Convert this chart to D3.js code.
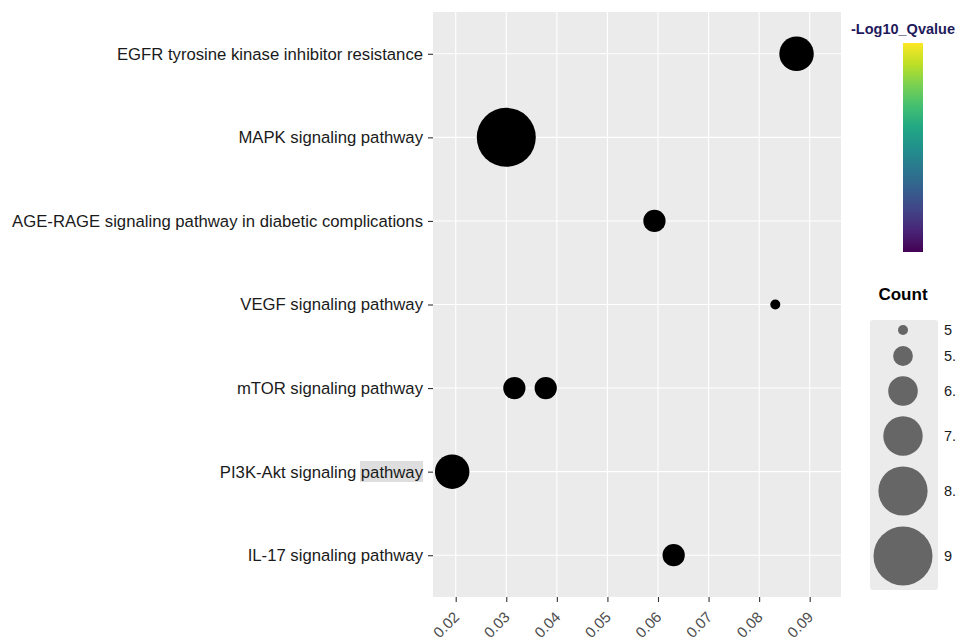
<!DOCTYPE html>
<html>
<head>
<meta charset="utf-8">
<script src="https://cdn.jsdelivr.net/npm/d3@7"></script>
<style>
  body { margin: 0; background: #fff; }
  svg { display: block; font-family: Helvetica, Arial, "Liberation Sans", sans-serif; }
</style>
</head>
<body>
<div id="chart"></div>
<script>
// pathways, top to bottom
const pathways = [
  'EGFR tyrosine kinase inhibitor resistance',
  'MAPK signaling pathway',
  'AGE-RAGE signaling pathway in diabetic complications',
  'VEGF signaling pathway',
  'mTOR signaling pathway',
  'PI3K-Akt signaling pathway',
  'IL-17 signaling pathway'
]
// one entry per point
const pointPathway = [
  'EGFR tyrosine kinase inhibitor resistance',
  'MAPK signaling pathway',
  'AGE-RAGE signaling pathway in diabetic complications',
  'VEGF signaling pathway',
  'mTOR signaling pathway',
  'mTOR signaling pathway',
  'PI3K-Akt signaling pathway',
  'IL-17 signaling pathway'
]
const richFactor = [0.0874, 0.0300, 0.0593, 0.0832, 0.0316, 0.0378, 0.0193, 0.0631]
const counts = [7, 9, 6, 5, 6, 6, 7, 6]

const xTicks = [0.02, 0.03, 0.04, 0.05, 0.06, 0.07, 0.08, 0.09]
const sizeBreaks = [5, 5.8, 6.6, 7.4, 8.2, 9]
const sizeLabels = ['5', '5.8', '6.6', '7.4', '8.2', '9']

const width = 956, height = 639
const panel = { left: 433, right: 841, top: 12, bottom: 597 }

const svg = d3.select('#chart').append('svg')
  .attr('width', width)
  .attr('height', height)

// scales
const xScale = d3.scaleLinear()
  .domain([0.01551, 0.09619])
  .range([panel.left, panel.right])
const yScale = d3.scalePoint()
  .domain(pathways)
  .range([panel.top, panel.bottom])
  .padding(0.5)
const rScale = d3.scaleLinear()
  .domain([5, 9])
  .range([5, 29.5])

// panel background
svg.append('rect')
  .attr('x', panel.left).attr('y', panel.top)
  .attr('width', panel.right - panel.left)
  .attr('height', panel.bottom - panel.top)
  .attr('fill', '#ebebeb')

// grid
svg.append('g')
  .selectAll('line')
  .data(xTicks)
  .enter().append('line')
  .attr('x1', d => xScale(d)).attr('x2', d => xScale(d))
  .attr('y1', panel.top).attr('y2', panel.bottom)
  .attr('stroke', '#fff').attr('stroke-width', 1.1)
svg.append('g')
  .selectAll('line')
  .data(pathways)
  .enter().append('line')
  .attr('x1', panel.left).attr('x2', panel.right)
  .attr('y1', d => yScale(d)).attr('y2', d => yScale(d))
  .attr('stroke', '#fff').attr('stroke-width', 1.1)

// highlight behind "pathway" (as in the screenshot)
svg.append('rect')
  .attr('x', 360).attr('y', 461)
  .attr('width', 63).attr('height', 21)
  .attr('fill', '#dedede')

// axes
const xAxis = d3.axisBottom(xScale)
  .tickValues(xTicks)
  .tickSize(5)
  .tickFormat(d3.format('.2f'))
const gx = svg.append('g')
  .attr('transform', 'translate(0,' + panel.bottom + ')')
  .call(xAxis)
gx.select('.domain').remove()
gx.selectAll('.tick line').attr('stroke', '#333').attr('stroke-width', 1.1)
gx.selectAll('.tick text')
  .attr('fill', '#4d4d4d')
  .attr('font-size', 15)
  .attr('text-anchor', 'end')
  .attr('dy', null)
  .attr('y', 0)
  .attr('transform', 'translate(4,21) rotate(-45)')

const yAxis = d3.axisLeft(yScale).tickSize(5).tickPadding(5)
const gy = svg.append('g')
  .attr('transform', 'translate(' + panel.left + ',0)')
  .call(yAxis)
gy.select('.domain').remove()
gy.selectAll('.tick line').attr('stroke', '#333').attr('stroke-width', 1.1)
gy.selectAll('.tick text')
  .attr('fill', '#1a1a1a')
  .attr('font-size', 16.7)

// points
svg.append('g')
  .selectAll('circle')
  .data(richFactor)
  .enter().append('circle')
  .attr('cx', d => xScale(d))
  .attr('cy', (d, i) => yScale(pointPathway[i]))
  .attr('r', (d, i) => rScale(counts[i]))
  .attr('fill', '#000')

// colour bar legend
const defs = svg.append('defs')
const grad = defs.append('linearGradient')
  .attr('id', 'viridis')
  .attr('x1', 0).attr('y1', 1).attr('x2', 0).attr('y2', 0)
d3.range(0, 1.001, 0.1).forEach(t => {
  grad.append('stop').attr('offset', t).attr('stop-color', d3.interpolateViridis(t))
})
svg.append('text')
  .attr('x', 903).attr('y', 34)
  .attr('text-anchor', 'middle')
  .attr('font-size', 14.5)
  .attr('font-weight', 'bold')
  .attr('fill', '#1f1a5c')
  .text('-Log10_Qvalue')
svg.append('rect')
  .attr('x', 903).attr('y', 43)
  .attr('width', 20).attr('height', 209)
  .attr('fill', 'url(#viridis)')

// size legend
svg.append('text')
  .attr('x', 903).attr('y', 300)
  .attr('text-anchor', 'middle')
  .attr('font-size', 17)
  .attr('font-weight', 'bold')
  .attr('fill', '#000')
  .text('Count')
svg.append('rect')
  .attr('x', 870).attr('y', 320)
  .attr('width', 68).attr('height', 270)
  .attr('rx', 3)
  .attr('fill', '#ebebeb')
const keyY = [330, 356, 391, 436, 491, 556]
const keys = svg.append('g')
  .selectAll('g')
  .data(sizeBreaks)
  .enter().append('g')
  .attr('transform', (d, i) => 'translate(903,' + keyY[i] + ')')
keys.append('circle')
  .attr('r', d => rScale(d))
  .attr('fill', '#666')
keys.append('text')
  .attr('x', 41)
  .attr('dy', '0.35em')
  .attr('font-size', 14.5)
  .attr('fill', '#1a1a1a')
  .text((d, i) => sizeLabels[i])
</script>
</body>
</html>
